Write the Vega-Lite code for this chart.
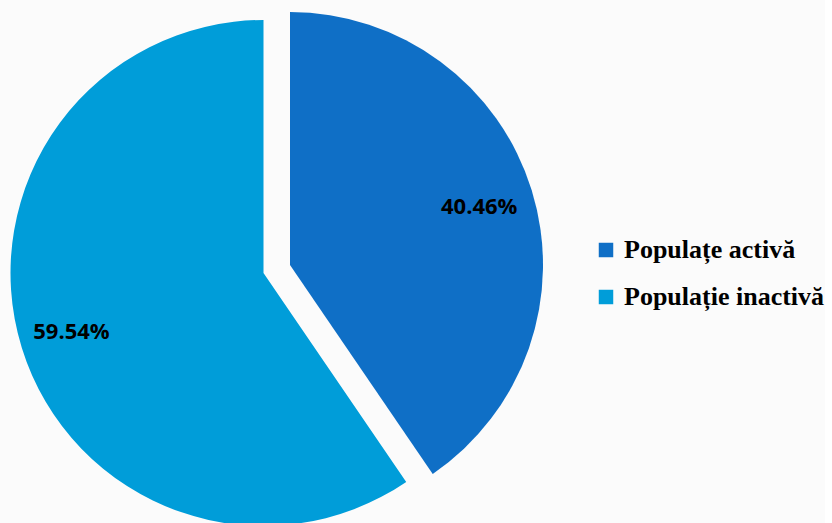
{
  "$schema": "https://vega.github.io/schema/vega-lite/v6.json",
  "width": 517,
  "height": 502,
  "padding": {"left": 5, "top": 12, "right": 0, "bottom": 0},
  "background": "#FBFBFB",
  "data": {
    "values": [
      {"category": "Populațe activă", "value": 0.4046},
      {"category": "Populație inactivă", "value": 0.5954}
    ]
  },
  "encoding": {
    "theta": {"field": "value", "type": "quantitative", "stack": true},
    "order": {"field": "category", "sort": "ascending"},
    "color": {
      "field": "category",
      "type": "nominal",
      "scale": {"domain": ["Populațe activă", "Populație inactivă"], "range": ["#0F6FC6", "#009DD9"]},
      "legend": {
        "title": null,
        "orient": "none",
        "legendX": 588,
        "legendY": 215,
        "symbolType": "square",
        "symbolSize": 210,
        "symbolStrokeWidth": 0,
        "symbolOpacity": 1,
        "labelFont": "Liberation Serif",
        "labelFontWeight": "bold",
        "labelFontSize": 26,
        "labelColor": "#000000",
        "labelOffset": 5,
        "rowPadding": 21,
        "labelLimit": 400,
        "padding": 0
      }
    }
  },
  "layer": [
    {
      "mark": {"type": "arc", "outerRadius": 253},
      "encoding": {
        "opacity": {"condition": {"test": "datum.category == 'Populație inactivă'", "value": 1}, "value": 0}
      }
    },
    {
      "mark": {"type": "arc", "outerRadius": 253, "xOffset": 26.5, "yOffset": -8},
      "encoding": {
        "opacity": {"condition": {"test": "datum.category == 'Populațe activă'", "value": 1}, "value": 0}
      }
    },
    {
      "mark": {"type": "text", "radius": 201, "font": "Open Sans", "fontWeight": "bold", "fontSize": 22, "color": "#000000", "baseline": "middle", "align": "center"},
      "encoding": {
        "text": {"field": "value", "type": "quantitative", "format": ".2%"},
        "color": {"value": "#000000"},
        "opacity": {"condition": {"test": "datum.category == 'Populație inactivă'", "value": 1}, "value": 0}
      }
    },
    {
      "mark": {"type": "text", "radius": 198, "font": "Open Sans", "fontWeight": "bold", "fontSize": 22, "color": "#000000", "baseline": "middle", "align": "center", "xOffset": 26.5, "yOffset": -8},
      "encoding": {
        "text": {"field": "value", "type": "quantitative", "format": ".2%"},
        "color": {"value": "#000000"},
        "opacity": {"condition": {"test": "datum.category == 'Populațe activă'", "value": 1}, "value": 0}
      }
    }
  ],
  "config": {"view": {"stroke": null}}
}
